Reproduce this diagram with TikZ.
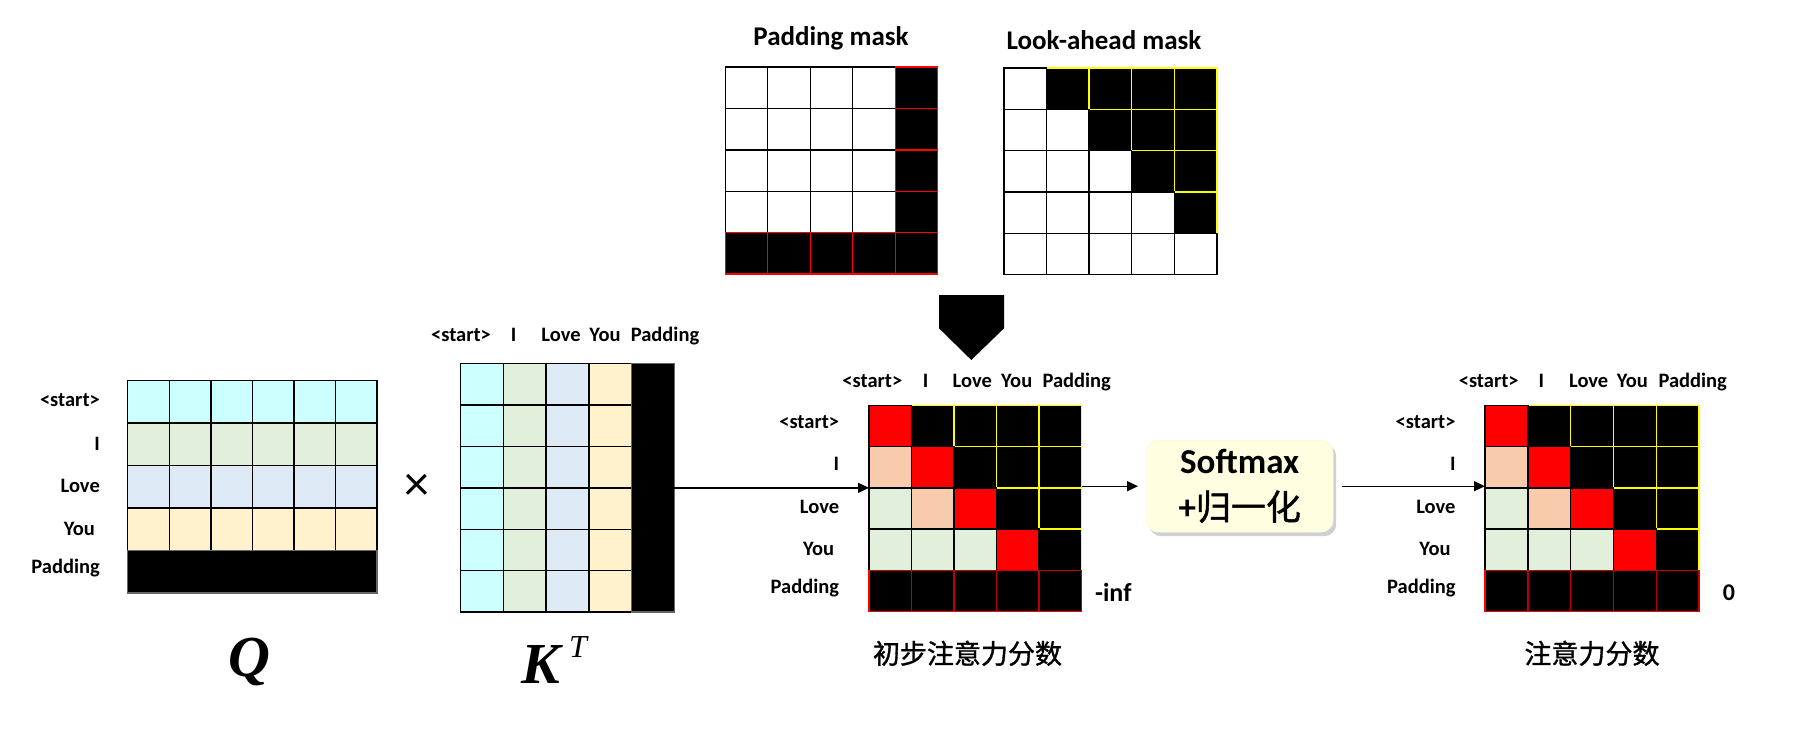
\documentclass[tikz,border=0pt]{standalone}
\usepackage{fontspec}
\setmainfont{Carlito}
\newfontfamily\cjk{Noto Sans CJK SC}[FakeBold=1.2]
\newfontfamily\tms{Liberation Serif}
\usetikzlibrary{arrows.meta,shadows}
\definecolor{qcyan}{HTML}{CCFFFF}
\definecolor{qgreen}{HTML}{E2EFDA}
\definecolor{qblue}{HTML}{DEEBF7}
\definecolor{qyellow}{HTML}{FFF2CC}
\definecolor{peach}{HTML}{F8CBAD}
\definecolor{smfill}{HTML}{FFFEE0}
\definecolor{darkred}{HTML}{C00000}
\definecolor{mskyellow}{HTML}{FFFF00}
% cell: x0, y0, w, h, col, row, style
\newcommand{\mcell}[7]{\path[#7] ({#1+(#5-1)*#3},{#2+(#6-1)*#4}) rectangle ++(#3,#4);}
\newcommand{\scoremat}[4]{%
  \foreach \c/\r in {2/1,3/1,4/1,5/1,3/2,4/2,5/2,4/3,5/3,5/4}{\mcell{#1}{#2}{#3}{#4}{\c}{\r}{fill=black,draw=mskyellow,grid}}
  \foreach \c/\r in {1/1,2/2,3/3,4/4}{\mcell{#1}{#2}{#3}{#4}{\c}{\r}{fill=red,draw=black,grid}}
  \foreach \c/\r in {1/2,2/3}{\mcell{#1}{#2}{#3}{#4}{\c}{\r}{fill=peach,draw=black,grid}}
  \foreach \c/\r in {1/3,1/4,2/4,3/4}{\mcell{#1}{#2}{#3}{#4}{\c}{\r}{fill=qgreen,draw=black,grid}}
  \foreach \c in {1,...,5}{\mcell{#1}{#2}{#3}{#4}{\c}{5}{fill=black,draw=darkred,grid}}
  \draw[red,grid] (#1,{#2+4*#4}) -- (#1,{#2+5*#4}) -- ({#1+5*#3},{#2+5*#4});
}
\tikzset{
  grid/.style={line width=1.4pt},
  lab/.style={font=\fontsize{20.5}{24}\selectfont\bfseries, inner sep=0pt},
  rowlab/.style={lab, anchor=base east},
  collab/.style={lab, anchor=base},
  title/.style={font=\fontsize{27}{30}\selectfont\bfseries, inner sep=0pt, anchor=base},
  frame/.style={inner sep=0pt, outer sep=0pt, anchor=north west},
  arr/.style={line width=1.3pt, -{Triangle[length=11pt,width=10pt]}},
  smbox/.style={rounded corners=12pt, fill=smfill, draw=smfill!80!black!20, inner sep=0pt,
    minimum width=187pt, minimum height=92pt, align=center,
    font=\fontsize{35}{46}\selectfont\bfseries,
    drop shadow={shadow xshift=3pt, shadow yshift=-4pt, opacity=0.3, fill=black!60}},
  caption/.style={font=\cjk\fontsize{27}{30}\selectfont, inner sep=0pt},
}
\begin{document}
\begin{tikzpicture}[x=1pt,y=-1pt]
\useasboundingbox[fill=white] (0,0) rectangle (1801,737);

% ---------- Q matrix ----------
\foreach \r/\col in {1/qcyan,2/qgreen,3/qblue,4/qyellow}{
  \foreach \c in {1,...,6}{\mcell{127.7}{380.3}{41.55}{42.54}{\c}{\r}{fill=\col,draw=black,grid}}}
\path[fill=black,draw=black!60,grid] (127.7,550.5) rectangle (377,593);
\node[frame, minimum width=249.3pt, minimum height=212.7pt] (qm) at (127.7,380.3) {};
\node[rowlab] (q1) at (100,406.7) {<start>};
\node[rowlab] (q2) at (100,450) {I};
\node[rowlab] (q3) at (100,492.7) {Love};
\node[rowlab] (q4) at (95,535) {You};
\node[rowlab] (q5) at (100,573.3) {Padding};
\node[font=\tms\bfseries\itshape\fontsize{58}{58}\selectfont, anchor=base, inner sep=0pt] (qlab) at (249,676) {Q};

% ---------- times ----------
\node[font=\fontsize{50}{50}\selectfont, inner sep=0pt] (times) at (416.7,487.7) {×};

% ---------- K^T matrix ----------
\foreach \c/\col in {1/qcyan,2/qgreen,3/qblue,4/qyellow}{
  \foreach \r in {1,...,6}{\mcell{460.7}{363.7}{42.72}{41.38}{\c}{\r}{fill=\col,draw=black,grid}}}
\path[fill=black,draw=black!60,grid] (631.6,363.7) rectangle (674.3,612);
\node[frame, minimum width=213.6pt, minimum height=248.3pt] (kt) at (460.7,363.7) {};
\node[collab] (k1) at (461,341.7) {<start>};
\node[collab] (k2) at (513.7,341.7) {I};
\node[collab] (k3) at (561,341.7) {Love};
\node[collab] (k4) at (605,341.7) {You};
\node[collab] (k5) at (665,341.7) {Padding};
\node[font=\tms\bfseries\itshape\fontsize{58}{58}\selectfont, anchor=base west, inner sep=0pt] (klab) at (521,683.3) {K};
\node[font=\tms\itshape\fontsize{32}{32}\selectfont, anchor=base west, inner sep=0pt] (tlab) at (569,657.3) {T};

% ---------- masks ----------
\node[title] (pmt) at (831,45) {Padding mask};
\foreach \r in {1,...,4}{\foreach \c in {1,...,4}{\mcell{725.3}{67}{42.48}{41.4}{\c}{\r}{fill=white,draw=black,grid}}}
\foreach \r in {1,...,5}{\mcell{725.3}{67}{42.48}{41.4}{5}{\r}{fill=black,draw=red,grid}}
\foreach \c in {1,...,4}{\mcell{725.3}{67}{42.48}{41.4}{\c}{5}{fill=black,draw=red,grid}}
\node[frame, minimum width=212.4pt, minimum height=207pt] (pm) at (725.3,67) {};

\node[title] (lat) at (1104,49) {Look-ahead mask};
\foreach \c/\r in {2/1,3/1,4/1,5/1,3/2,4/2,5/2,4/3,5/3,5/4}{\mcell{1004}{68}{42.56}{41.34}{\c}{\r}{fill=black,draw=mskyellow,grid}}
\foreach \c/\r in {1/1,1/2,2/2,1/3,2/3,3/3,1/4,2/4,3/4,4/4,1/5,2/5,3/5,4/5,5/5}{\mcell{1004}{68}{42.56}{41.34}{\c}{\r}{fill=white,draw=black,grid}}
\node[frame, minimum width=212.8pt, minimum height=206.7pt] (la) at (1004,68) {};

% block arrow down
\fill[black] (939,295) -- (1004,295) -- (1004,328.3) -- (971.3,360) -- (939,328.3) -- cycle;

% ---------- initial score matrix ----------
\scoremat{869}{405.3}{42.54}{41.28}
\node[frame, minimum width=212.7pt, minimum height=206.4pt] (mid) at (869,405.3) {};
\node[collab] (m1) at (872.3,387.3) {<start>};
\node[collab] (m2) at (925.7,387.3) {I};
\node[collab] (m3) at (972.3,387.3) {Love};
\node[collab] (m4) at (1016.7,387.3) {You};
\node[collab] (m5) at (1076.7,387.3) {Padding};
\node[rowlab] (mr1) at (839.3,428.3) {<start>};
\node[rowlab] (mr2) at (839.3,470) {I};
\node[rowlab] (mr3) at (839.3,513.3) {Love};
\node[rowlab] (mr4) at (834.3,555) {You};
\node[rowlab] (mr5) at (839.3,593.7) {Padding};
\node[font=\fontsize{26}{30}\selectfont\bfseries, inner sep=0pt] (ninf) at (1113.3,592.3) {-inf};
\node[caption] (cap1) at (967.5,653.3) {初步注意力分数};

% ---------- softmax ----------
\node[smbox] (sm) at (1239.7,486.2) {Softmax\\+{\cjk\mdseries 归一化}};

% ---------- final score matrix ----------
\scoremat{1485}{405.3}{42.8}{41.28}
\node[frame, minimum width=214pt, minimum height=206.4pt] (rm) at (1485,405.3) {};
\node[collab] (f1) at (1488.7,387.3) {<start>};
\node[collab] (f2) at (1541.3,387.3) {I};
\node[collab] (f3) at (1588.7,387.3) {Love};
\node[collab] (f4) at (1632.3,387.3) {You};
\node[collab] (f5) at (1692.7,387.3) {Padding};
\node[rowlab] (fr1) at (1455.7,428.3) {<start>};
\node[rowlab] (fr2) at (1455.7,470) {I};
\node[rowlab] (fr3) at (1455.7,513.3) {Love};
\node[rowlab] (fr4) at (1450.7,555) {You};
\node[rowlab] (fr5) at (1455.7,593.7) {Padding};
\node[font=\fontsize{24}{28}\selectfont\bfseries, inner sep=0pt] (zero) at (1729,592.3) {0};
\node[caption] (cap2) at (1592,653.3) {注意力分数};

% ---------- connectors ----------
\draw[arr] (kt.east) -- (kt.east -| mid.west);
\draw[arr] (mid.east |- sm.west) -- ([xshift=-8pt]sm.west);
\draw[arr] ([xshift=9pt]sm.east) -- (sm.east -| rm.west);
\end{tikzpicture}
\end{document}
